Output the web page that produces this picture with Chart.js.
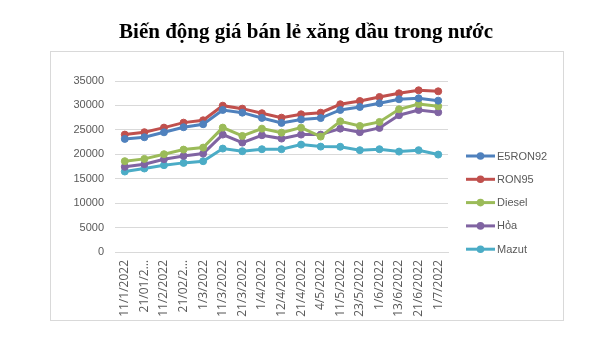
<!DOCTYPE html>
<html lang="vi">
<head>
    <meta charset="UTF-8">
    <title>Giá xăng dầu</title>
    <script src="https://cdn.jsdelivr.net/npm/chart.js@4.4.0/dist/chart.umd.min.js"></script>
    <style>
        html, body { margin: 0; padding: 0; background: #fff; }
        #wrap { width: 595px; height: 351px; }
    </style>
</head>
<body>
    <div id="wrap"><canvas id="lineChart"></canvas></div>
    <script>
        // ngay dieu chinh gia
        var ngay = ['11/1/2022', '21/01/2022', '11/2/2022', '21/02/2022', '1/3/2022', '11/3/2022',
            '21/3/2022', '1/4/2022', '12/4/2022', '21/4/2022', '4/5/2022', '11/5/2022',
            '23/5/2022', '1/6/2022', '13/6/2022', '21/6/2022', '1/7/2022'];

        var e5ron92 = [23150, 23490, 24500, 25540, 26150, 29070, 28520, 27440, 26420, 27130, 27410, 29070, 29680, 30440, 31260, 31460, 30980];
        var ron95   = [24030, 24520, 25460, 26480, 26960, 29950, 29340, 28400, 27500, 28190, 28520, 30240, 30910, 31730, 32480, 33100, 32890];
        var diesel  = [18590, 19060, 20020, 20960, 21370, 25460, 23760, 25250, 24430, 25450, 23620, 26750, 25800, 26620, 29210, 30300, 29830];
        var hoa     = [17430, 17980, 19000, 19670, 20140, 24030, 22390, 23900, 23210, 24030, 24030, 25250, 24520, 25390, 27990, 29070, 28600];
        var mazut   = [16470, 17090, 17770, 18240, 18590, 21170, 20630, 21040, 21040, 21980, 21570, 21540, 20840, 21040, 20550, 20840, 19940];

        var tieuDe = 'Biến động giá bán lẻ xăng dầu trong nước';
        var tenSeries = ['E5RON92', 'RON95', 'Diesel', 'Hỏa', 'Mazut'];
        var mau = ['#4F81BD', '#C0504D', '#9BBB59', '#8064A2', '#4BACC6'];
        var yTicks = { min: 0, max: 35000, step: 5000 };

        function taoSeries(i, data) {
            return {
                label: tenSeries[i],
                data: data,
                borderColor: mau[i],
                backgroundColor: mau[i],
                pointBackgroundColor: mau[i],
                pointBorderColor: mau[i],
                borderWidth: 3,
                pointRadius: 3.5,
                pointBorderWidth: 1,
                tension: 0
            };
        }

        // khung vien, tieu de, chu giai ve tay giong Excel
        var khungVaChuGiai = {
            id: 'khungVaChuGiai',
            beforeDraw: function (chart) {
                var ctx = chart.ctx;
                ctx.save();
                ctx.strokeStyle = '#d9d9d9';
                ctx.lineWidth = 1;
                ctx.strokeRect(50.5, 51.5, 513, 269);
                ctx.fillStyle = '#000';
                ctx.font = 'bold 21px "Liberation Serif", "Times New Roman", serif';
                ctx.textAlign = 'center';
                ctx.textBaseline = 'alphabetic';
                ctx.fillText(tieuDe, 306, 38);
                ctx.restore();
            },
            afterDraw: function (chart) {
                var ctx = chart.ctx;
                ctx.save();
                chart.data.datasets.forEach(function (ds, i) {
                    var y = 156 + i * 23.3;
                    ctx.strokeStyle = ds.borderColor;
                    ctx.lineWidth = 3;
                    ctx.beginPath();
                    ctx.moveTo(466, y);
                    ctx.lineTo(495, y);
                    ctx.stroke();
                    ctx.fillStyle = ds.borderColor;
                    ctx.beginPath();
                    ctx.arc(480.5, y, 3.8, 0, Math.PI * 2);
                    ctx.fill();
                    ctx.fillStyle = '#595959';
                    ctx.font = '11px "Liberation Sans", Arial, sans-serif';
                    ctx.textBaseline = 'middle';
                    ctx.textAlign = 'left';
                    ctx.fillText(ds.label, 497, y + 0.5);
                });
                ctx.restore();
            }
        };

        var ctxL = document.getElementById('lineChart').getContext('2d');
        var myLineChart = new Chart(ctxL, {
            type: 'line',
            data: {
                labels: ngay,
                datasets: [
                    taoSeries(0, e5ron92),
                    taoSeries(1, ron95),
                    taoSeries(2, diesel),
                    taoSeries(3, hoa),
                    taoSeries(4, mazut)
                ]
            },
            options: {
                responsive: true,
                maintainAspectRatio: false,
                animation: false,
                layout: { padding: { left: 50, right: 147, top: 81, bottom: 0 } },
                plugins: {
                    legend: { display: false },
                    tooltip: { enabled: false },
                    title: { display: false }
                },
                scales: {
                    x: {
                        offset: true,
                        grid: { display: false, drawTicks: false },
                        border: { color: '#d9d9d9', width: 1 },
                        ticks: {
                            color: '#595959',
                            font: { family: '"Open Sans", sans-serif', size: 12 },
                            minRotation: 90,
                            maxRotation: 90,
                            autoSkip: false,
                            padding: 8,
                            callback: function (v) {
                                var s = this.getLabelForValue(v);
                                return s.length > 9 ? s.slice(0, 7) + '…' : s;
                            }
                        },
                        afterFit: function (scale) { scale.height = 99; }
                    },
                    y: {
                        min: yTicks.min,
                        max: yTicks.max,
                        grid: { color: '#d9d9d9', drawTicks: false },
                        border: { display: false },
                        ticks: {
                            stepSize: yTicks.step,
                            color: '#595959',
                            font: { family: '"Liberation Sans", Arial, sans-serif', size: 11 },
                            padding: 11,
                            callback: function (v) { return String(v); }
                        },
                        afterFit: function (scale) { scale.width = 65; }
                    }
                }
            },
            plugins: [khungVaChuGiai]
        });
    </script>
</body>
</html>
